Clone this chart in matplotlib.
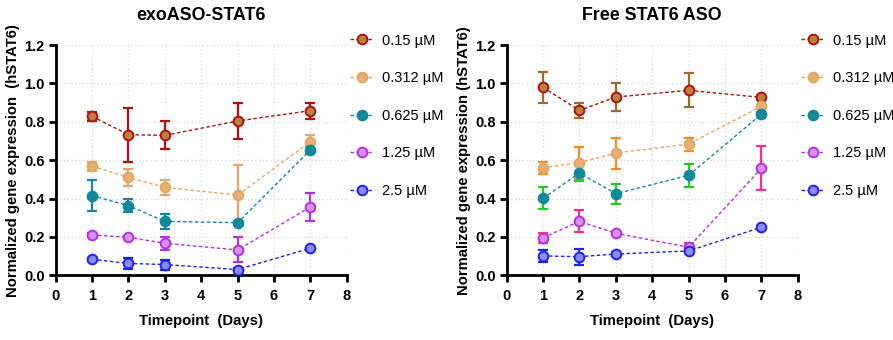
import matplotlib
matplotlib.use("Agg")
import matplotlib.pyplot as plt
from matplotlib.ticker import FormatStrFormatter

plt.rcParams['font.family'] = ['Liberation Sans', 'DejaVu Sans']

days = [1, 2, 3, 5, 7]
doses = ["0.15 \u00b5M", "0.312 \u00b5M", "0.625 \u00b5M", "1.25 \u00b5M", "2.5 \u00b5M"]

# exoASO-STAT6: mean and error per dose
exo_mean = [
    [0.828, 0.733, 0.729, 0.804, 0.858],
    [0.569, 0.510, 0.458, 0.418, 0.696],
    [0.415, 0.363, 0.281, 0.274, 0.653],
    [0.210, 0.198, 0.167, 0.132, 0.356],
    [0.083, 0.062, 0.056, 0.030, 0.141],
]
exo_err = [
    [0.025, 0.140, 0.073, 0.092, 0.042],
    [0.023, 0.043, 0.039, 0.155, 0.037],
    [0.081, 0.035, 0.041, 0.010, 0.021],
    [0.008, 0.008, 0.035, 0.065, 0.075],
    [0.008, 0.027, 0.026, 0.008, 0.008],
]

# Free STAT6 ASO: mean and error per dose
free_mean = [
    [0.979, 0.859, 0.929, 0.964, 0.927],
    [0.561, 0.587, 0.637, 0.684, 0.880],
    [0.401, 0.533, 0.425, 0.521, 0.839],
    [0.196, 0.281, 0.219, 0.146, 0.557],
    [0.101, 0.097, 0.111, 0.127, 0.250],
]
free_err = [
    [0.082, 0.038, 0.074, 0.088, 0.015],
    [0.031, 0.083, 0.081, 0.034, 0.060],
    [0.058, 0.041, 0.052, 0.060, 0.010],
    [0.027, 0.057, 0.008, 0.020, 0.115],
    [0.030, 0.042, 0.008, 0.008, 0.008],
]

line_colors = ["#B01010", "#E0A868", "#12899A", "#B62FE0", "#2020F0"]
face_colors = ["#B8843C", "#E8B070", "#12899A", "#D890F0", "#8A8AF8"]
exo_err_colors = ["#B01010", "#E0A868", "#12899A", "#B62FE0", "#2020F0"]
free_err_colors = ["#9C6A2A", "#FF8A1A", "#22CC22", "#FF2A8A", "#2020F0"]

fig = plt.figure(figsize=(8.93, 3.40), dpi=100)
ax1 = fig.add_axes([0.0624, 0.1903, 0.3259, 0.6773])
ax2 = fig.add_axes([0.5674, 0.1903, 0.3259, 0.6773])


def draw(ax, means, errs, err_colors, title, ylabel):
    for i in range(len(doses)):
        ax.errorbar(days, means[i], yerr=errs[i], fmt="none",
                    ecolor=err_colors[i], elinewidth=1.6, capsize=3.5,
                    capthick=1.6, zorder=3)
        ax.plot(days, means[i], linestyle=(0, (2.5, 1.8)), linewidth=1.0,
                color=line_colors[i], marker="o", markersize=7,
                markerfacecolor=face_colors[i], markeredgecolor=line_colors[i],
                markeredgewidth=1.4, label=doses[i], zorder=4)
    ax.set_xlim(0, 8)
    ax.set_ylim(0, 1.2)
    ax.set_xticks(range(0, 9))
    ax.set_yticks([0.0, 0.2, 0.4, 0.6, 0.8, 1.0, 1.2])
    ax.yaxis.set_major_formatter(FormatStrFormatter("%.1f"))
    ax.grid(True, color="#D8D8D8", linestyle=(0, (1, 2)), linewidth=0.9)
    ax.set_axisbelow(True)
    for s in ("top", "right"):
        ax.spines[s].set_visible(False)
    for s in ("left", "bottom"):
        ax.spines[s].set_linewidth(2.0)
    ax.tick_params(axis="both", direction="out", length=5, width=2.0,
                   labelsize=10.5, pad=3)
    ax.tick_params(axis="x", pad=5)
    for lab in ax.get_xticklabels() + ax.get_yticklabels():
        lab.set_fontweight("bold")
    ax.set_title(title, fontsize=12.8, fontweight="bold", pad=18)
    ax.set_xlabel("Timepoint  (Days)", fontsize=10.7, fontweight="bold", labelpad=8)
    ax.set_ylabel(ylabel, fontsize=10.7, fontweight="bold", labelpad=3)
    ax.legend(loc="upper left", bbox_to_anchor=(0.99, 1.075), frameon=False,
              fontsize=10.5, handlelength=1.7, handletextpad=0.5,
              labelspacing=1.62, borderaxespad=0.0)


draw(ax1, exo_mean, exo_err, exo_err_colors, "exoASO-STAT6",
     "Normalized gene expression  (hSTAT6)")
draw(ax2, free_mean, free_err, free_err_colors, "Free STAT6 ASO",
     "Normalized gene expression (hSTAT6)")

fig.savefig("out.png", dpi=100)
